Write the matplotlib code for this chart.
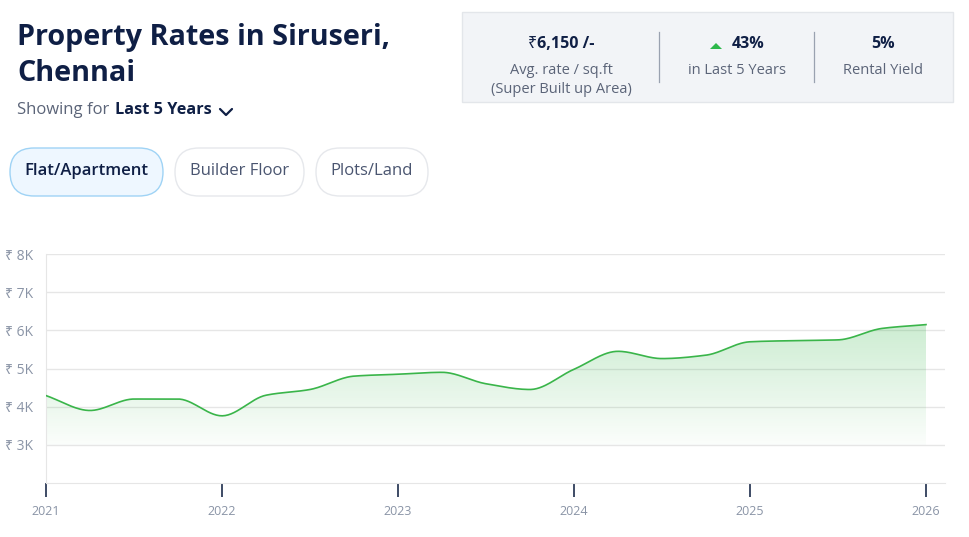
import matplotlib
matplotlib.use("Agg")
import matplotlib.pyplot as plt
import numpy as np
from matplotlib.patches import FancyBboxPatch, Polygon, Rectangle
from matplotlib.lines import Line2D
from matplotlib.transforms import Affine2D

# quarterly rate per sq.ft
quarters = [2021.0, 2021.25, 2021.5, 2021.75,
            2022.0, 2022.25, 2022.5, 2022.75,
            2023.0, 2023.25, 2023.5, 2023.75,
            2024.0, 2024.25, 2024.5, 2024.75,
            2025.0, 2025.25, 2025.5, 2025.75, 2026.0]
rates = [4290, 3900, 4200, 4200,
         3760, 4300, 4450, 4800,
         4850, 4900, 4600, 4450,
         4980, 5450, 5260, 5350,
         5700, 5730, 5750, 6050, 6150]
year_ticks = [2021, 2022, 2023, 2024, 2025, 2026]
rate_ticks = [3000, 4000, 5000, 6000, 7000, 8000]
rate_labels = ["₹ 3K", "₹ 4K", "₹ 5K", "₹ 6K", "₹ 7K", "₹ 8K"]
tabs = ["Flat/Apartment", "Builder Floor", "Plots/Land"]
stats = [("₹6,150 /-", ["Avg. rate / sq.ft", "(Super Built up Area)"]),
         ("43%", ["in Last 5 Years"]),
         ("5%", ["Rental Yield"])]

FONT = ["Open Sans", "Noto Sans", "DejaVu Sans"]
NAVY = "#0f1f45"
GREY = "#5b6478"
TICK_GREY = "#8a94a6"
GREEN = "#3ab54a"

plt.rcParams["font.family"] = FONT


def pchip(x, y, xs):
    # monotone cubic curve through the points, like the smoothed spline
    x = np.asarray(x, float)
    y = np.asarray(y, float)
    h = np.diff(x)
    d = np.diff(y) / h
    m = np.zeros_like(y)
    for k in range(1, len(y) - 1):
        if d[k - 1] * d[k] > 0:
            w1 = 2 * h[k] + h[k - 1]
            w2 = h[k] + 2 * h[k - 1]
            m[k] = (w1 + w2) / (w1 / d[k - 1] + w2 / d[k])
    m[0] = d[0]
    m[-1] = d[-1]
    idx = np.clip(np.searchsorted(x, xs) - 1, 0, len(h) - 1)
    t = (xs - x[idx]) / h[idx]
    h00 = 2 * t**3 - 3 * t**2 + 1
    h10 = t**3 - 2 * t**2 + t
    h01 = -2 * t**3 + 3 * t**2
    h11 = t**3 - t**2
    return (h00 * y[idx] + h10 * h[idx] * m[idx]
            + h01 * y[idx + 1] + h11 * h[idx] * m[idx + 1])


fig = plt.figure(figsize=(9.7, 5.37), dpi=100)
W, H = 970, 537
px = Affine2D().scale(1 / 100, -1 / 100).translate(0, H / 100) + fig.dpi_scale_trans

# header
fig.text(17, 45, "Property Rates in Siruseri,", transform=px, fontsize=20.7,
         fontweight="bold", color=NAVY, va="baseline")
fig.text(17, 81, "Chennai", transform=px, fontsize=20.7,
         fontweight="bold", color=NAVY, va="baseline")
fig.text(17, 110, "Showing for", transform=px, fontsize=12,
         color=GREY, va="center")
fig.text(115, 110, "Last 5 Years", transform=px, fontsize=11.7,
         fontweight="bold", color=NAVY, va="center")
fig.add_artist(Line2D([220, 226, 232], [109, 115, 109], transform=px,
                      color=NAVY, lw=1.6, solid_capstyle="round"))

# tabs
tab_boxes = [(10, 163), (175, 304), (316, 428)]
for i, (name, (x0, x1)) in enumerate(zip(tabs, tab_boxes)):
    active = i == 0
    fig.add_artist(FancyBboxPatch(
        (x0, 148), x1 - x0, 48, boxstyle="round,pad=0,rounding_size=24",
        transform=px, facecolor="#eef7ff" if active else "white",
        edgecolor="#9fd3f5" if active else "#e6e8ec", lw=1.0))
    fig.text((x0 + x1) / 2, 171, name, transform=px, fontsize=12,
             fontweight="semibold" if active else "normal",
             color=NAVY if active else "#4a5570", ha="center", va="center")

# stats box
fig.add_artist(Rectangle((462, 12), 491, 90, transform=px,
                         facecolor="#f2f4f7", edgecolor="#e3e6ea", lw=1))
for xd in (659, 814):
    fig.add_artist(Line2D([xd, xd], [32, 82], transform=px, color="#9aa2b0", lw=0.9))
centers = [561, 748, 883]
sub_centers = [561, 737, 883]
for cx, sx, (big, small) in zip(centers, sub_centers, stats):
    fig.text(cx, 44, big, transform=px, fontsize=11.5, fontweight="bold",
             color=NAVY, ha="center", va="center")
    for j, line in enumerate(small):
        fig.text(sx, 70 + 19.5 * j, line, transform=px, fontsize=10.5,
                 color=GREY, ha="center", va="center")
fig.add_artist(Polygon([[710, 49], [722, 49], [716, 43]], closed=True,
                       transform=px, facecolor="#2db84b", edgecolor="none"))

# chart
ax = fig.add_axes([46 / W, (H - 483) / H, (945 - 46) / W, (483 - 254) / H])
xs = np.linspace(quarters[0], quarters[-1], 600)
ys = pchip(quarters, rates, xs)

fill = ax.fill_between(xs, ys, 3000, color="none", lw=0)
grad = np.zeros((256, 1, 4))
grad[:, 0, 0] = 0.18
grad[:, 0, 1] = 0.70
grad[:, 0, 2] = 0.26
grad[:, 0, 3] = np.linspace(0.02, 0.24, 256)
img = ax.imshow(grad, extent=[quarters[0], quarters[-1], 3000, max(rates)],
                origin="lower", aspect="auto", zorder=1)
img.set_clip_path(fill.get_paths()[0], transform=ax.transData)
ax.plot(xs, ys, color=GREEN, lw=1.2, zorder=3)

ax.set_xlim(2021, 2026 + 19 / 176)
ax.set_ylim(2000, 8000)
ax.set_yticks(rate_ticks)
ax.set_yticklabels(rate_labels)
ax.set_xticks(year_ticks)
ax.set_xticklabels([str(y) for y in year_ticks])
ax.grid(axis="y", color="#e6e6e6", lw=1, zorder=0)
ax.set_axisbelow(True)
for side in ("top", "right"):
    ax.spines[side].set_visible(False)
ax.spines["left"].set_color("#e6e6e6")
ax.spines["bottom"].set_color("#e6e6e6")
ax.tick_params(axis="y", length=0, pad=9, labelsize=10, labelcolor=TICK_GREY)
ax.tick_params(axis="x", length=10, width=1.2, color="#1d2c4c", pad=6,
               labelsize=9, labelcolor=TICK_GREY)

fig.savefig("out.png", dpi=100)
